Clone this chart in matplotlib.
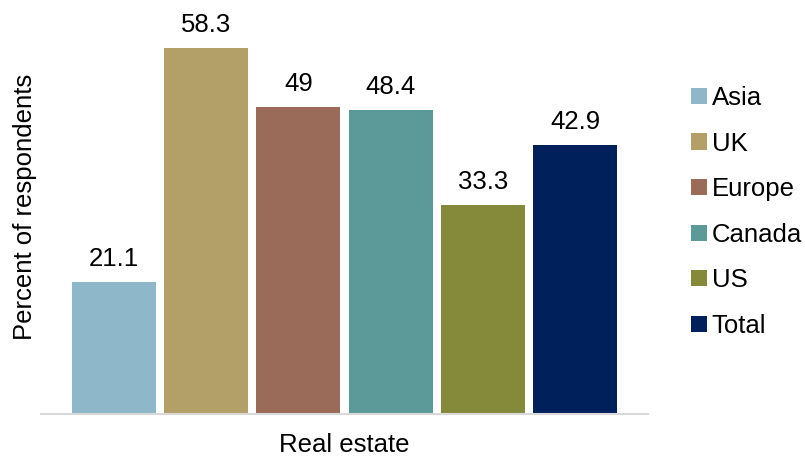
import matplotlib.pyplot as plt
from matplotlib.patches import Patch

plt.rcParams["font.family"] = ["Liberation Sans", "DejaVu Sans"]

# Share of respondents by region, real estate
regions = ["Asia", "UK", "Europe", "Canada", "US", "Total"]
values = [21.1, 58.3, 49, 48.4, 33.3, 42.9]
value_labels = ["21.1", "58.3", "49", "48.4", "33.3", "42.9"]
colors = ["#8fb7ca", "#b39f68", "#9a6b59", "#5c9999", "#858a3b", "#00205c"]

FS = 18.5

fig = plt.figure(figsize=(8.05, 4.59), dpi=100)
ax = fig.add_axes([41 / 805, 45 / 459, 607 / 805, 414 / 459])

x = list(range(len(regions)))
bars = ax.bar(x, values, width=0.913, color=colors)

for b, lab in zip(bars, value_labels):
    ax.text(b.get_x() + b.get_width() / 2, b.get_height() + 2.55, lab,
            ha="center", va="baseline", fontsize=FS)

ax.set_xlim(-0.79, 5.79)
ax.set_ylim(0, 66)
ax.set_yticks([])
ax.set_xticks([])
for s in ["top", "right", "left"]:
    ax.spines[s].set_visible(False)
ax.spines["bottom"].set_color("#d9d9d9")
ax.spines["bottom"].set_linewidth(1.5)

ax.set_xlabel("Real estate", fontsize=FS, labelpad=14)
ax.set_ylabel("Percent of respondents", fontsize=FS, labelpad=3)

handles = [Patch(facecolor=c, label=r) for r, c in zip(regions, colors)]
fig.legend(handles=handles, loc="center left", bbox_to_anchor=(668 / 805, 1 - 212 / 459),
           frameon=False, fontsize=FS, handlelength=0.6, handleheight=0.6,
           handletextpad=0.2, labelspacing=0.84)

plt.savefig("out.png", dpi=100)
plt.close()
